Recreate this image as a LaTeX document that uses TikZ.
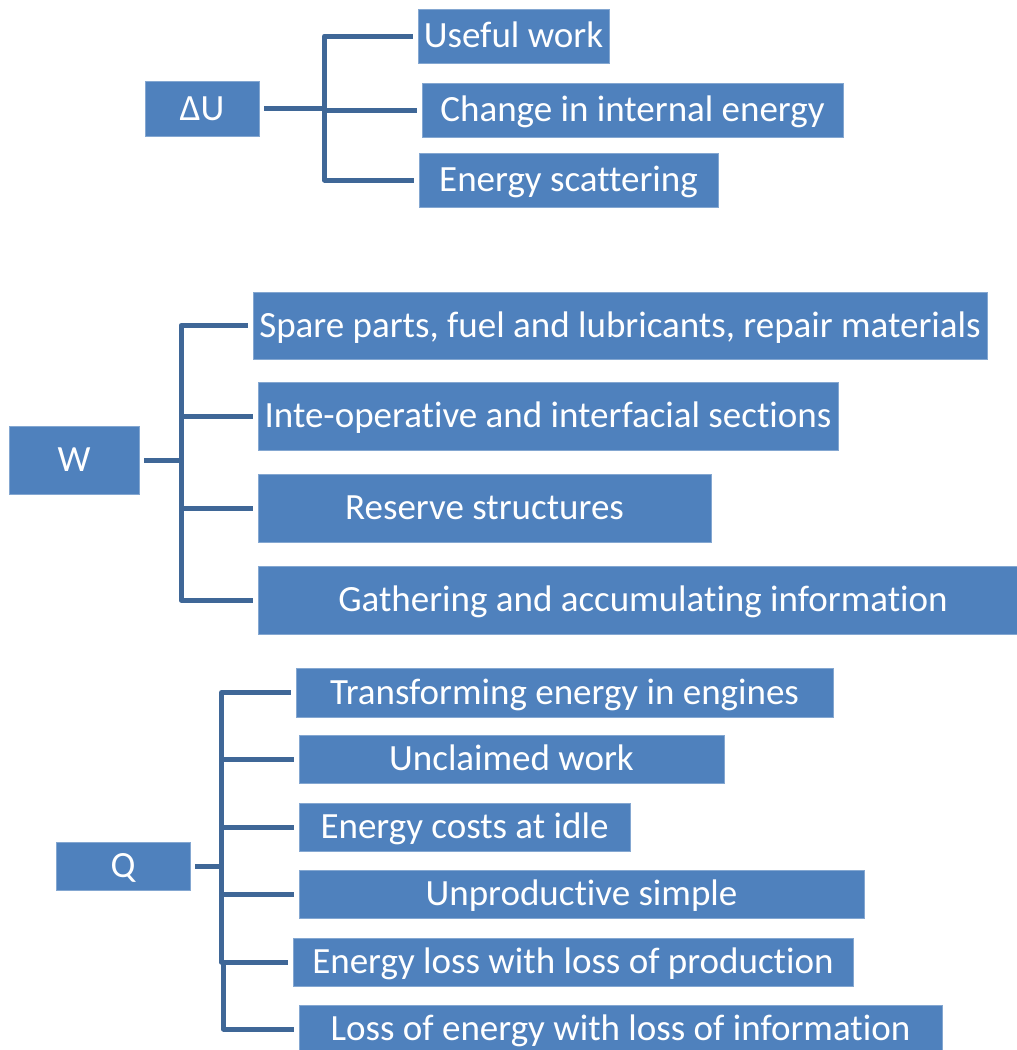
\documentclass[tikz,border=0pt]{standalone}
\usepackage{fontspec}
\setmainfont[Ligatures={NoCommon}]{Carlito}
\definecolor{boxblue}{HTML}{4F81BD}
\definecolor{linkblue}{HTML}{3F6797}
\begin{document}
\begin{tikzpicture}[x=1pt,y=-1pt,
  item/.style={fill=boxblue, draw=boxblue!70!white, line width=0.6pt,
    text=white, inner sep=0pt, font=\fontsize{37}{44}\selectfont,
    text height=23.7pt, text depth=0pt},
  conn/.style={draw=linkblue, line width=5pt, line join=round}]
\useasboundingbox (0,0) rectangle (1017,1050);
\clip (0,0) rectangle (1017,1050);

% --- Delta U group
\node[item, minimum width=114pt, minimum height=55pt] (du) at (202,108.5) {ΔU};
\node[item, minimum width=191pt, minimum height=54pt] (u1) at (513.5,36) {Useful work};
\node[item, minimum width=421pt, minimum height=54pt] (u2) at (632.5,110) {Change in internal energy};
\node[item, minimum width=299pt, minimum height=54pt] (u3) at (568.5,180) {Energy scattering};
\coordinate (jU) at (324.5,0);

\draw[conn, shorten <=5pt] (du.east) -- (du.east -| jU);
\draw[conn, shorten <=5pt, shorten >=5pt] (u1.west) -- (jU |- u1.west) -- (jU |- u3.west) -- (u3.west);
\draw[conn, shorten >=5pt] (jU |- u2.west) -- (u2.west);

% --- W group
\node[item, minimum width=130pt, minimum height=68pt] (w) at (74,460) {W};
\node[item, minimum width=734pt, minimum height=67pt] (w1) at (620,325.5) {Spare parts, fuel and lubricants, repair materials};
\node[item, minimum width=580pt, minimum height=68pt] (w2) at (548,416) {Inte-operative and interfacial sections};
\node[item, minimum width=453pt, minimum height=68pt] (w3) at (484.5,508) {Reserve structures};
\node[item, minimum width=770pt, minimum height=68pt] (w4) at (643,600) {Gathering and accumulating information};
\coordinate (jW) at (181,0);

\draw[conn, shorten <=5pt] (w.east) -- (w.east -| jW);
\draw[conn, shorten <=5pt, shorten >=5pt] (w1.west) -- (jW |- w1.west) -- (jW |- w4.west) -- (w4.west);
\draw[conn, shorten >=5pt] (jW |- w2.west) -- (w2.west);
\draw[conn, shorten >=5pt] (jW |- w3.west) -- (w3.west);

% --- Q group
\node[item, minimum width=134pt, minimum height=48pt] (q) at (123,866) {Q};
\node[item, minimum width=537pt, minimum height=49pt] (q1) at (564.5,692.5) {Transforming energy in engines};
\node[item, minimum width=425pt, minimum height=48pt] (q2) at (511.5,759) {Unclaimed work};
\node[item, minimum width=331pt, minimum height=48pt] (q3) at (464.5,827) {Energy costs at idle};
\node[item, minimum width=565pt, minimum height=48pt] (q4) at (581.5,894) {Unproductive simple};
\node[item, minimum width=560pt, minimum height=48pt] (q5) at (573,962) {Energy loss with loss of production};
\node[item, minimum width=643pt, minimum height=48pt] (q6) at (620.5,1029) {Loss of energy with loss of information};
\coordinate (jQ) at (221.5,0);
\coordinate (jQb) at (223.5,0);

\draw[conn, shorten <=5pt] (q.east) -- (q.east -| jQ);
\draw[conn, shorten <=5pt, shorten >=5pt] (q1.west) -- (jQ |- q1.west) -- (jQ |- q5.west) -- (q5.west);
\draw[conn, shorten >=5pt] (jQb |- q5.west) -- (jQb |- q6.west) -- (q6.west);
\draw[conn, shorten >=5pt] (jQ |- q2.west) -- (q2.west);
\draw[conn, shorten >=5pt] (jQ |- q3.west) -- (q3.west);
\draw[conn, shorten >=5pt] (jQ |- q4.west) -- (q4.west);
\end{tikzpicture}
\end{document}
